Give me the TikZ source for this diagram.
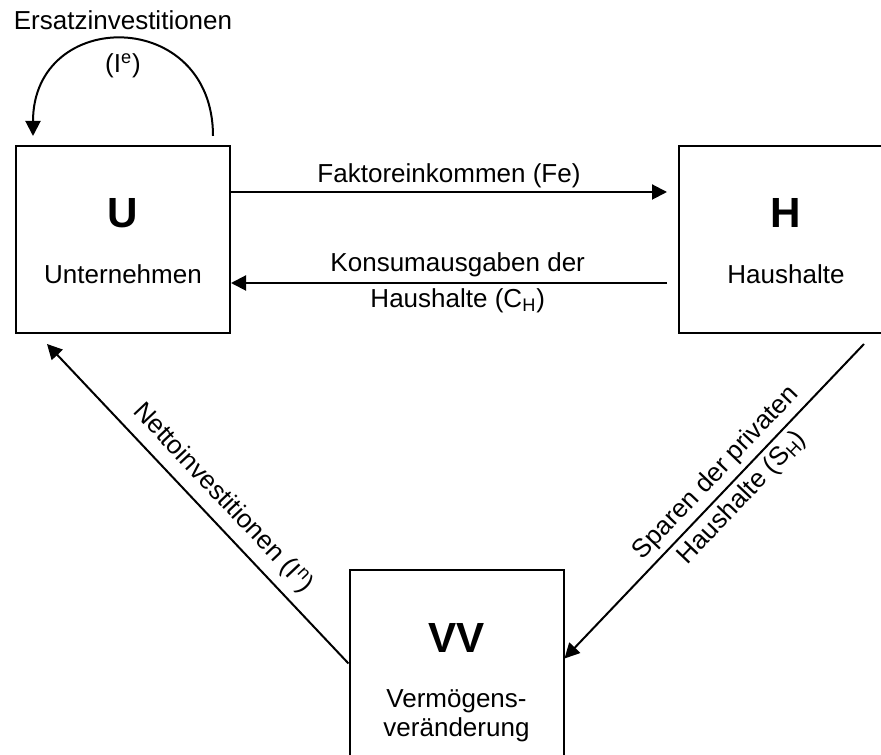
\documentclass[tikz,border=0pt]{standalone}
\usepackage{fontspec}
\setmainfont{Liberation Sans}
\usetikzlibrary{arrows.meta}
\begin{document}
\begin{tikzpicture}[x=0.2mm, y=-0.2mm, line width=0.4mm,
  every node/.style={font=\fontsize{14.8}{20.5}\selectfont, inner sep=2pt},
  box/.style={draw, rectangle, minimum width=42.8mm, minimum height=37.4mm, inner sep=0pt},
  boxhead/.style={font=\fontsize{24}{28}\selectfont\bfseries, anchor=base},
  boxtext/.style={anchor=base},
  flow/.style={-{Triangle[length=3mm, width=3mm]}},
  back/.style={{Triangle[length=3mm, width=3mm]}-}]
\useasboundingbox (0,0) rectangle (881,755);
\node[box] (U) at (123,239.5) {};
\node[box] (H) at (786,239.5) {};
\node[box] (VV) at (456.5,663.5) {};
\node[boxhead] (Ut) at (123,228) {U};
\node[boxtext] (Un) at (123,284) {Unternehmen};
\node[boxhead] (Ht) at (786,228) {H};
\node[boxtext] (Hn) at (786,284) {Haushalte};
\node[boxhead] (VVt) at (456.5,653) {VV};
\node[boxtext] (VVn1) at (456.5,708) {Vermögens-};
\node[boxtext] (VVn2) at (456.5,737) {veränderung};
\draw[flow] ([xshift=18mm, yshift=1.8mm]U.north) .. controls +(0,-129) and +(0,-129) .. ([xshift=-18mm, yshift=1.8mm]U.north)
  node[midway, yshift=-1mm, align=center] {Ersatzinvestitionen\\[4pt](I\textsuperscript{e})};
\draw[flow] ([yshift=9.5mm]U.east) -- node[above] {Faktoreinkommen (Fe)} ([yshift=9.5mm, xshift=-2.2mm]H.west);
\draw[flow] ([yshift=-8.7mm, xshift=-2.2mm]H.west) -- node[pos=0.48, align=center] {Konsumausgaben der\\Haushalte (C\textsubscript{H})} ([yshift=-8.7mm]U.east);
\draw[back] ([xshift=6.4mm, yshift=-2mm]U.south west) -- node[pos=0.53, sloped, above=3pt] {Nettoinvestitionen (I\textsuperscript{n})} (VV.west);
\draw[flow] ([xshift=37.2mm, yshift=-2mm]H.south west) -- node[pos=0.45, sloped, align=center] {Sparen der privaten\\Haushalte (S\textsubscript{H})} ([yshift=1mm]VV.east);
\end{tikzpicture}
\end{document}
